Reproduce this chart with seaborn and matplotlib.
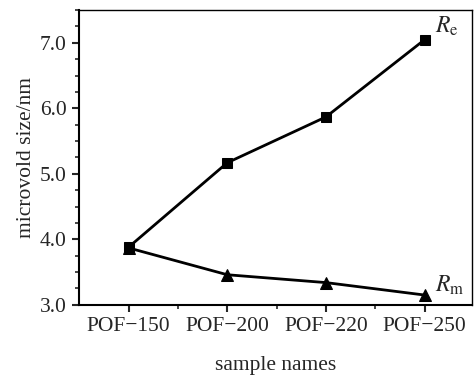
import matplotlib
matplotlib.use("Agg")
import matplotlib.pyplot as plt
import seaborn as sns
import pandas as pd
from matplotlib.ticker import MultipleLocator, FormatStrFormatter

# data
samples = ["POF\u2212150", "POF\u2212200", "POF\u2212220", "POF\u2212250"]
re_vals = [3.88, 5.17, 5.87, 7.05]
rm_vals = [3.87, 3.46, 3.34, 3.15]

df = pd.DataFrame({"sample": samples, "Re": re_vals, "Rm": rm_vals})

sns.set_style("ticks")
plt.rcParams["font.family"] = ["Liberation Serif", "DejaVu Serif"]
plt.rcParams["mathtext.fontset"] = "stix"

fig = plt.figure(figsize=(4.74, 3.75), dpi=100)
ax = fig.add_axes([0.167, 0.187, 0.829, 0.786])

xs = list(range(len(samples)))
sns.lineplot(x=xs, y=df["Re"], ax=ax, color="black", lw=2,
             marker="s", markersize=7, markeredgecolor="black")
sns.lineplot(x=xs, y=df["Rm"], ax=ax, color="black", lw=2,
             marker="^", markersize=8, markeredgecolor="black")

ax.set_xlim(-0.5, 3.48)
ax.set_ylim(3.0, 7.5)
ax.set_xticks(xs)
ax.set_xticklabels(samples)
ax.xaxis.set_minor_locator(plt.FixedLocator([0.5, 1.5, 2.5]))
ax.yaxis.set_major_locator(MultipleLocator(1.0))
ax.yaxis.set_minor_locator(MultipleLocator(0.25))
ax.yaxis.set_major_formatter(FormatStrFormatter("%.1f"))

ax.tick_params(axis="both", which="major", direction="out", length=5, width=1.5,
               labelsize=15.5, pad=4)
ax.tick_params(axis="both", which="minor", direction="out", length=3, width=1.2)
for s in ax.spines.values():
    s.set_linewidth(1.5)
    s.set_color("black")
for s in ["top", "right"]:
    ax.spines[s].set_linewidth(1.0)

ax.set_xlabel("sample names", fontsize=15.5, labelpad=14)
ax.set_ylabel("microvold size/nm", fontsize=15.5, labelpad=3)

ax.text(3.1, 7.15, r"$R_{\mathrm{e}}$", fontsize=17)
ax.text(3.1, 3.2, r"$R_{\mathrm{m}}$", fontsize=17)

fig.savefig("out.png", dpi=100)
